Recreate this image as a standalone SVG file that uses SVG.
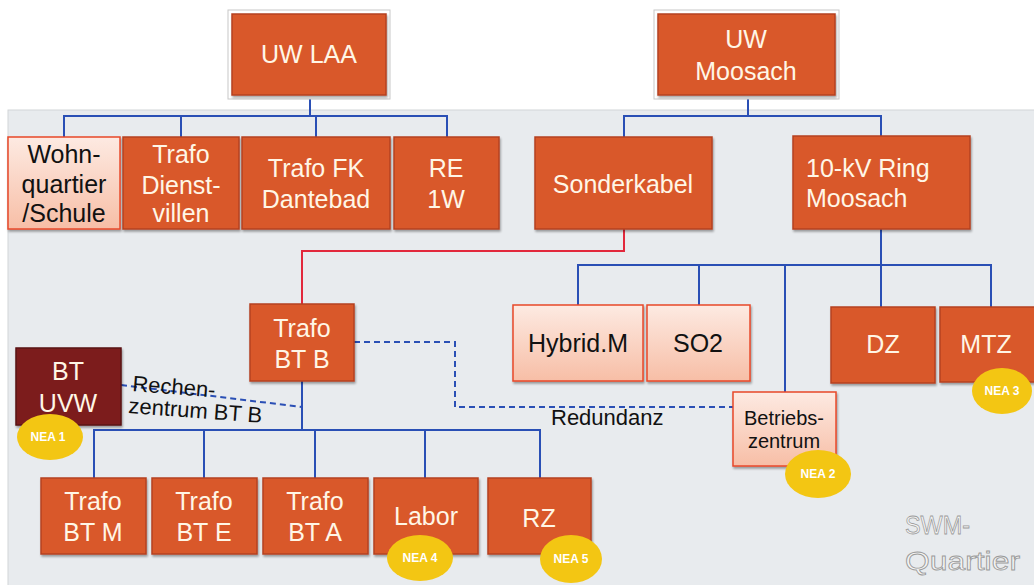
<svg xmlns="http://www.w3.org/2000/svg" width="1034" height="585" viewBox="0 0 1034 585">
<defs>
<linearGradient id="pink" x1="0" y1="0" x2="0" y2="1">
<stop offset="0" stop-color="#fdeae2"/>
<stop offset="1" stop-color="#f7bea6"/>
</linearGradient>
<filter id="sh" x="-10%" y="-10%" width="120%" height="125%">
<feDropShadow dx="1" dy="2" stdDeviation="1.2" flood-color="#000" flood-opacity="0.35"/>
</filter>
</defs>
<style>
.o{fill:#d9582b;stroke:#b5411f;stroke-width:1.5;filter:url(#sh)}
.p{fill:url(#pink);stroke:#e8482a;stroke-width:1.5;filter:url(#sh)}
.d{fill:#7b1d1f;stroke:#5a1014;stroke-width:1.5;filter:url(#sh)}
.frame{fill:#fff;stroke:#c8c8c8;stroke-width:1}
.t{font-family:"Liberation Sans",Arial,sans-serif;font-size:25px;fill:#fff6e6;text-anchor:middle}
.k{font-family:"Liberation Sans",Arial,sans-serif;font-size:25px;fill:#111;text-anchor:middle}
.s{font-family:"Liberation Sans",Arial,sans-serif;font-size:20px;fill:#111;text-anchor:middle}
.l{font-family:"Liberation Sans",Arial,sans-serif;font-size:22px;fill:#111}
.nea{fill:#f3c613}
.nt{font-family:"Liberation Sans",Arial,sans-serif;font-size:12px;font-weight:bold;fill:#fff;text-anchor:middle}
.b{fill:none;stroke:#2a4fb5;stroke-width:2}
.r{fill:none;stroke:#e2283c;stroke-width:2}
.dash{fill:none;stroke:#2a4fb5;stroke-width:2;stroke-dasharray:6 4}
</style>
<rect x="0" y="0" width="1034" height="585" fill="#ffffff"/>
<rect x="8" y="110" width="1030" height="480" fill="#e8ebee" stroke="#d2d5d8" stroke-width="1"/>

<g id="connectors">
<polyline class="b" points="310,95 310,116"/>
<polyline class="b" points="64,137 64,116 447,116 447,137"/>
<polyline class="b" points="181,116 181,137"/>
<polyline class="b" points="316,116 316,137"/>
<polyline class="b" points="748,95 748,116"/>
<polyline class="b" points="624,137 624,116 881,116 881,137"/>
<polyline class="r" points="624,229 624,251 302,251 302,304"/>
<polyline class="b" points="881,229 881,265"/>
<polyline class="b" points="578,305 578,265 991,265 991,307"/>
<polyline class="b" points="699,265 699,305"/>
<polyline class="b" points="785,265 785,392"/>
<polyline class="b" points="881,265 881,307"/>
<polyline class="b" points="302,381 302,430"/>
<polyline class="b" points="94,478 94,430 540,430 540,478"/>
<polyline class="b" points="204,430 204,478"/>
<polyline class="b" points="315,430 315,478"/>
<polyline class="b" points="425,430 425,478"/>
<polyline class="dash" points="354,342 455,342 455,407 733,407"/>
<line class="dash" x1="121" y1="385" x2="302" y2="407"/>
<text class="l" transform="translate(132,391) rotate(4.5)">Rechen-</text>
<text class="l" transform="translate(128,413) rotate(4.2)">zentrum BT B</text>
<text class="l" x="551" y="425">Redundanz</text>
</g>

<g id="uw-laa">
<rect class="frame" x="228" y="10" width="162" height="89"/>
<rect class="o" x="232" y="14" width="154" height="81"/>
<text class="t" x="309" y="63">UW LAA</text>
</g>
<g id="uw-moosach">
<rect class="frame" x="654" y="10" width="185" height="89"/>
<rect class="o" x="658" y="14" width="177" height="81"/>
<text class="t" x="746" y="48">UW</text>
<text class="t" x="746" y="80">Moosach</text>
</g>
<g id="wohnquartier">
<rect class="p" x="8" y="137" width="112" height="92"/>
<text class="k" x="64" y="163">Wohn-</text>
<text class="k" x="64" y="193">quartier</text>
<text class="k" x="64" y="222">/Schule</text>
</g>
<g id="trafo-dienstvillen">
<rect class="o" x="123" y="137" width="116" height="92"/>
<text class="t" x="181" y="163">Trafo</text>
<text class="t" x="181" y="194">Dienst-</text>
<text class="t" x="181" y="222">villen</text>
</g>
<g id="trafo-fk-dantebad">
<rect class="o" x="242" y="137" width="148" height="92"/>
<text class="t" x="316" y="177">Trafo FK</text>
<text class="t" x="316" y="208">Dantebad</text>
</g>
<g id="re-1w">
<rect class="o" x="394" y="137" width="105" height="92"/>
<text class="t" x="446" y="177">RE</text>
<text class="t" x="446" y="208">1W</text>
</g>
<g id="sonderkabel">
<rect class="o" x="535" y="137" width="177" height="92"/>
<text class="t" x="623" y="193">Sonderkabel</text>
</g>
<g id="ring-moosach">
<rect class="o" x="793" y="136" width="177" height="93"/>
<text class="t" x="806" y="177" text-anchor="start" style="text-anchor:start">10-kV Ring</text>
<text class="t" x="806" y="207" style="text-anchor:start">Moosach</text>
</g>
<g id="trafo-bt-b">
<rect class="o" x="250" y="304" width="104" height="77"/>
<text class="t" x="302" y="337">Trafo</text>
<text class="t" x="302" y="368">BT B</text>
</g>
<g id="hybrid-m">
<rect class="p" x="513" y="305" width="130" height="76"/>
<text class="k" x="578" y="352">Hybrid.M</text>
</g>
<g id="so2">
<rect class="p" x="647" y="305" width="103" height="76"/>
<text class="k" x="698" y="352">SO2</text>
</g>
<g id="dz">
<rect class="o" x="831" y="307" width="104" height="76"/>
<text class="t" x="883" y="353">DZ</text>
</g>
<g id="mtz">
<rect class="o" x="940" y="307" width="100" height="75"/>
<text class="t" x="986" y="353">MTZ</text>
<ellipse class="nea" cx="1002" cy="391" rx="30" ry="23"/>
<text class="nt" x="1002" y="395">NEA 3</text>
</g>
<g id="betriebszentrum">
<rect class="p" x="733" y="392" width="103" height="74"/>
<text class="s" x="784" y="425">Betriebs-</text>
<text class="s" x="784" y="448">zentrum</text>
<ellipse class="nea" cx="818" cy="474" rx="33" ry="24"/>
<text class="nt" x="818" y="478">NEA 2</text>
</g>
<g id="bt-uvw">
<rect class="d" x="16" y="348" width="105" height="77"/>
<text class="t" x="68" y="380">BT</text>
<text class="t" x="68" y="412">UVW</text>
<ellipse class="nea" cx="50" cy="437" rx="33" ry="23"/>
<text class="nt" x="48" y="441">NEA 1</text>
</g>
<g id="trafo-bt-m">
<rect class="o" x="41" y="478" width="105" height="76"/>
<text class="t" x="93" y="510">Trafo</text>
<text class="t" x="93" y="541">BT M</text>
</g>
<g id="trafo-bt-e">
<rect class="o" x="152" y="478" width="105" height="76"/>
<text class="t" x="204" y="510">Trafo</text>
<text class="t" x="204" y="541">BT E</text>
</g>
<g id="trafo-bt-a">
<rect class="o" x="263" y="478" width="105" height="76"/>
<text class="t" x="315" y="510">Trafo</text>
<text class="t" x="315" y="541">BT A</text>
</g>
<g id="labor">
<rect class="o" x="374" y="478" width="104" height="76"/>
<text class="t" x="426" y="525">Labor</text>
<ellipse class="nea" cx="420" cy="558" rx="33" ry="23"/>
<text class="nt" x="420" y="562">NEA 4</text>
</g>
<g id="rz">
<rect class="o" x="488" y="478" width="103" height="76"/>
<text class="t" x="539" y="527">RZ</text>
<ellipse class="nea" cx="571" cy="559" rx="31" ry="24"/>
<text class="nt" x="571" y="563">NEA 5</text>
</g>
<g id="watermark">
<text x="905" y="534" textLength="65" lengthAdjust="spacingAndGlyphs" style="font-family:'Liberation Sans',Arial,sans-serif;font-size:26px;fill:#f4f4f4;stroke:#9a9a9a;stroke-width:0.8">SWM-</text>
<text x="905" y="570" textLength="115" lengthAdjust="spacingAndGlyphs" style="font-family:'Liberation Sans',Arial,sans-serif;font-size:26px;fill:#f4f4f4;stroke:#9a9a9a;stroke-width:0.8">Quartier</text>
</g>
</svg>
